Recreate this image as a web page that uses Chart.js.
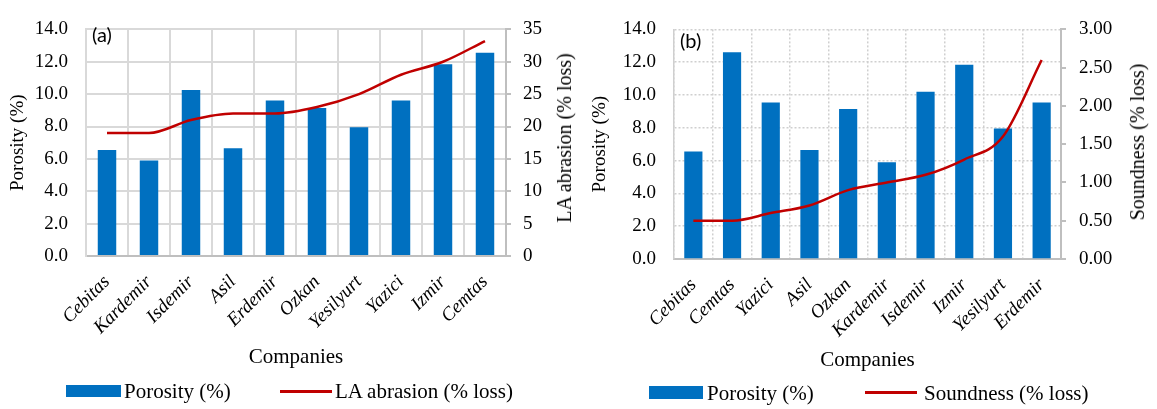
<!DOCTYPE html>
<html><head><meta charset="utf-8">
<script src="https://cdn.jsdelivr.net/npm/chart.js@4"></script>
<style>
html,body{margin:0;padding:0;background:#fff;}
body{width:1157px;height:409px;position:relative;overflow:hidden;}
.wrap{position:absolute;top:0;height:409px;}
.lab{position:absolute;font-family:Lato,'Liberation Sans',sans-serif;font-size:20px;line-height:20px;color:#000;}
.leg{position:absolute;font-family:'Liberation Serif',serif;font-size:21px;line-height:24px;color:#000;white-space:nowrap;}
.box{position:absolute;background:#0070C0;}
.ln{position:absolute;background:#C00000;height:3px;}
.rt{position:absolute;font-family:'Liberation Serif',serif;font-size:20px;line-height:24px;color:#000;white-space:nowrap;transform:translate(-50%,-50%) rotate(-90deg);}
</style></head><body>
<div class="wrap" style="left:0;width:580px"><canvas id="ca" width="580" height="409"></canvas></div>
<div class="wrap" style="left:580px;width:577px"><canvas id="cb" width="577" height="409"></canvas></div>
<div class="lab" style="left:92px;top:24px">(a)</div>
<div class="lab" style="left:680px;top:30px">(b)</div>

<div class="rt" style="left:564px;top:138px">LA abrasion (% loss)</div>
<div class="rt" style="left:1137px;top:142px">Soundness (% loss)</div>

<div class="box" style="left:66px;top:385px;width:55px;height:12px"></div>
<div class="leg" style="left:124px;top:379px">Porosity (%)</div>
<div class="ln" style="left:280px;top:390px;width:52px"></div>
<div class="leg" style="left:335px;top:379px">LA abrasion (% loss)</div>

<div class="box" style="left:649px;top:386px;width:54px;height:13px"></div>
<div class="leg" style="left:707px;top:381px">Porosity (%)</div>
<div class="ln" style="left:865px;top:391px;width:52px"></div>
<div class="leg" style="left:924px;top:381px">Soundness (% loss)</div>

<script>
// ---- data (a) ----
const companiesA = ['Cebitas','Kardemir','Isdemir','Asil','Erdemir','Ozkan','Yesilyurt','Yazici','Izmir','Cemtas'];
const porosityA  = [6.55, 5.9, 10.25, 6.65, 9.6, 9.15, 7.95, 9.6, 11.85, 12.55];
const laAbrasion = [19, 19, 21, 22, 22, 23, 25, 28, 30, 33.2];
// ---- data (b) ----
const companiesB = ['Cebitas','Cemtas','Yazici','Asil','Ozkan','Kardemir','Isdemir','Izmir','Yesilyurt','Erdemir'];
const porosityB  = [6.55, 12.6, 9.55, 6.65, 9.15, 5.9, 10.2, 11.85, 7.95, 9.55];
const soundness  = [0.5, 0.5, 0.6, 0.7, 0.9, 1.0, 1.1, 1.3, 1.6, 2.6];
// ---- axis ticks ----
const porosityTicks = [0, 2, 4, 6, 8, 10, 12, 14];
const laTicks = [0, 5, 10, 15, 20, 25, 30, 35];
const soundTicks = [0, 0.5, 1, 1.5, 2, 2.5, 3];

const SERIF = "'Liberation Serif', 'Times New Roman', serif";
const BLUE = '#0070C0', RED = '#C00000';

function makeChart(id, cfg) {
  const dashed = cfg.dashed ? [2, 2] : [];
  return new Chart(document.getElementById(id), {
    type: 'bar',
    data: {
      labels: cfg.labels,
      datasets: [
        { type: 'line', label: cfg.lineLabel, data: cfg.line, yAxisID: 'y1',
          borderColor: RED, backgroundColor: RED, borderWidth: 2.5, pointRadius: 0,
          cubicInterpolationMode: 'monotone', order: 0 },
        { type: 'bar', label: 'Porosity (%)', data: cfg.bars, yAxisID: 'y',
          backgroundColor: BLUE, borderWidth: 0, categoryPercentage: 1,
          barPercentage: cfg.barPct, order: 1 }
      ]
    },
    options: {
      responsive: false, animation: false,
      layout: { padding: { left: 0, right: 0, top: cfg.top, bottom: cfg.padBottom } },
      plugins: { legend: { display: false }, tooltip: { enabled: false } },
      scales: {
        x: {
          grid: { offset: true, color: cfg.gridColor, lineWidth: cfg.gridW, drawTicks: false },
          border: { display: true, color: '#bfbfbf', width: 2, dash: dashed },
          ticks: { autoSkip: false, maxRotation: 45, minRotation: 45, padding: 15, color: '#000',
                   font: { family: SERIF, size: 19, style: 'italic' } },
          title: { display: true, text: 'Companies', color: '#000',
                   font: { family: SERIF, size: 21 }, padding: { top: 0, bottom: 2 } },
          afterFit(s) { s.height = cfg.xH; }
        },
        y: {
          position: 'left', min: 0, max: 14,
          afterBuildTicks(s) { s.ticks = porosityTicks.map(v => ({ value: v })); },
          ticks: { padding: 18, color: '#000', font: { family: SERIF, size: 19 },
                   callback: v => Number(v).toFixed(1) },
          grid: { color: cfg.gridColor, lineWidth: cfg.gridW, drawTicks: false },
          border: { display: true, color: cfg.gridColor, width: cfg.gridW, dash: dashed },
          title: { display: true, text: 'Porosity (%)', color: '#000',
                   font: { family: SERIF, size: 19 }, padding: { top: cfg.ltPad, bottom: 0 } },
          afterFit(s) { s.width = cfg.yW; }
        },
        y1: {
          position: 'right', min: 0, max: cfg.rMax,
          afterBuildTicks(s) { s.ticks = cfg.rTicks.map(v => ({ value: v })); },
          ticks: { padding: cfg.rPad, color: '#000', font: { family: SERIF, size: 19 },
                   callback: v => Number(v).toFixed(cfg.rDec) },
          grid: { drawOnChartArea: false, drawTicks: true, tickLength: 5,
                  color: '#bfbfbf', lineWidth: 2 },
          border: { display: true, color: '#bfbfbf', width: 2 },
          title: { display: false },
          afterFit(s) { s.width = cfg.y1W; }
        }
      }
    }
  });
}

makeChart('ca', {
  labels: companiesA, bars: porosityA, line: laAbrasion, lineLabel: 'LA abrasion (% loss)',
  barPct: 0.44, top: 16, padBottom: 37, xH: 116, yW: 86, y1W: 74,
  rMax: 35, rTicks: laTicks, rDec: 0, rPad: 12,
  ltPad: 7, gridColor: '#d9d9d9', gridW: 2, dashed: false
});

makeChart('cb', {
  labels: companiesB, bars: porosityB, line: soundness, lineLabel: 'Soundness (% loss)',
  barPct: 0.47, top: 22, padBottom: 34, xH: 116, yW: 94, y1W: 96,
  rMax: 3, rTicks: soundTicks, rDec: 2, rPad: 13,
  ltPad: 9, gridColor: '#cfcfcf', gridW: 1.5, dashed: true
});
</script>
</body></html>
